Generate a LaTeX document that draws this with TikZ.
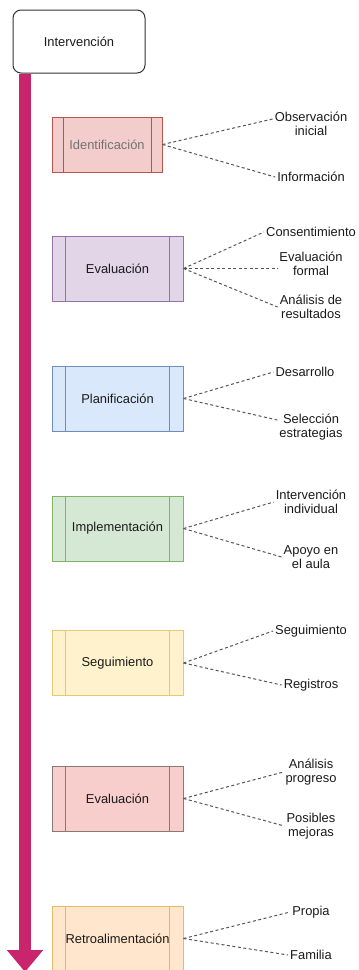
\documentclass[tikz,border=0pt]{standalone}
\usepackage{fontspec}
\setmainfont{Liberation Sans}
\usetikzlibrary{arrows.meta, positioning, calc}
\definecolor{timeline}{HTML}{C8256C}
\definecolor{linkgray}{HTML}{555555}
\definecolor{txt}{HTML}{1A1A1A}
\definecolor{identfill}{RGB}{242,205,204}
\definecolor{identline}{RGB}{184,84,80}
\definecolor{evalfill}{RGB}{225,213,231}
\definecolor{evalline}{RGB}{150,115,166}
\definecolor{planfill}{RGB}{218,232,252}
\definecolor{planline}{RGB}{108,142,191}
\definecolor{implfill}{RGB}{213,232,212}
\definecolor{implline}{RGB}{130,179,102}
\definecolor{segufill}{RGB}{255,242,204}
\definecolor{seguline}{RGB}{228,200,120}
\definecolor{revfill}{RGB}{248,206,204}
\definecolor{revline}{RGB}{140,118,118}
\definecolor{retrofill}{RGB}{255,230,204}
\definecolor{retroline}{RGB}{230,186,100}
\newcommand{\stageline}{black}
\newcommand{\stageoff}{13.1pt}
\tikzstyle{lbl} = [font=\fontsize{12.9pt}{14pt}\selectfont, text=txt, align=center, inner sep=2pt]
\tikzstyle{link} = [linkgray, line width=1pt, dash pattern=on 3pt off 2.5pt]
\tikzstyle{start} = [draw=black!80, fill=white, rounded corners=8pt, line width=1pt, minimum width=132pt, minimum height=63pt, lbl]
\tikzstyle{stage} = [line width=1pt, minimum height=65pt, minimum width=131pt, lbl,
  path picture={
    \draw[line width=1pt, draw=\stageline] ([xshift=\stageoff]path picture bounding box.north west) -- ([xshift=\stageoff]path picture bounding box.south west);
    \draw[line width=1pt, draw=\stageline] ([xshift=-\stageoff]path picture bounding box.north east) -- ([xshift=-\stageoff]path picture bounding box.south east);
  }]

\begin{document}
\begin{tikzpicture}[x=1pt, y=-1pt]
        \useasboundingbox (0,0) rectangle (359,970);
        \node (interv) [start] at (79,41.5) {Intervención};
        \coordinate (tip) at (25,972);

        \renewcommand{\stageline}{identline}\renewcommand{\stageoff}{11pt}
        \node (ident) [stage, fill=identfill, draw=identline, minimum width=110pt, minimum height=55pt, text=black!55] at (107,144.5) {Identificación};
        \node (obs) [lbl] at (311,124) {Observación\\inicial};
        \node (info) [lbl] at (311,177) {Información};
        \draw [link] (ident.east) -- ([yshift=5pt]obs.west);
        \draw [link] (ident.east) -- (info.west);

        \renewcommand{\stageline}{evalline}\renewcommand{\stageoff}{13.1pt}
        \node (eval) [stage, fill=evalfill, draw=evalline] at (117.5,268.5) {Evaluación};
        \node (cons) [lbl] at (311,232) {Consentimiento};
        \node (form) [lbl] at (311,264) {Evaluación\\formal};
        \node (anal) [lbl] at (311,307) {Análisis de\\resultados};
        \draw [link] (eval.east) -- (cons.west);
        \draw [link] (eval.east) -- (eval.east -| form.west);
        \draw [link] (eval.east) -- (anal.west);

        \renewcommand{\stageline}{planline}
        \node (plan) [stage, fill=planfill, draw=planline] at (117.5,398.5) {Planificación};
        \node (desa) [lbl] at (305,372) {Desarrollo};
        \node (sele) [lbl] at (311,427) {Selección\\estrategias};
        \draw [link] (plan.east) -- (desa.west);
        \draw [link] (plan.east) -- ([yshift=7pt]sele.west);

        \renewcommand{\stageline}{implline}
        \node (impl) [stage, fill=implfill, draw=implline] at (117.5,528.5) {Implementación};
        \node (indi) [lbl] at (311,502) {Intervención\\individual};
        \node (aula) [lbl] at (311,557) {Apoyo en\\el aula};
        \draw [link] (impl.east) -- (indi.west);
        \draw [link] (impl.east) -- (aula.west);

        \renewcommand{\stageline}{seguline}
        \node (segu) [stage, fill=segufill, draw=seguline] at (117.5,663) {Seguimiento};
        \node (segl) [lbl] at (311,631) {Seguimiento};
        \node (regi) [lbl] at (311,685) {Registros};
        \draw [link] (segu.east) -- (segl.west);
        \draw [link] (segu.east) -- (regi.west);

        \renewcommand{\stageline}{revline}
        \node (eval2) [stage, fill=revfill, draw=revline] at (117.5,798.5) {Evaluación};
        \node (prog) [lbl] at (311,772) {Análisis\\progreso};
        \node (mejo) [lbl] at (311,826) {Posibles\\mejoras};
        \draw [link] (eval2.east) -- (prog.west);
        \draw [link] (eval2.east) -- (mejo.west);

        \renewcommand{\stageline}{retroline}
        \node (retro) [stage, fill=retrofill, draw=retroline] at (117.5,938.5) {Retroalimentación};
        \node (prop) [lbl] at (311,912) {Propia};
        \node (fami) [lbl] at (311,955) {Familia};
        \draw [link] (retro.east) -- (prop.west);
        \draw [link] (retro.east) -- (fami.west);

        \draw [timeline, line width=12pt, shorten <=0.5pt, -{Triangle[width=35pt,length=22pt]}] (interv.south -| tip) -- (tip);
      \end{tikzpicture}
\end{document}
